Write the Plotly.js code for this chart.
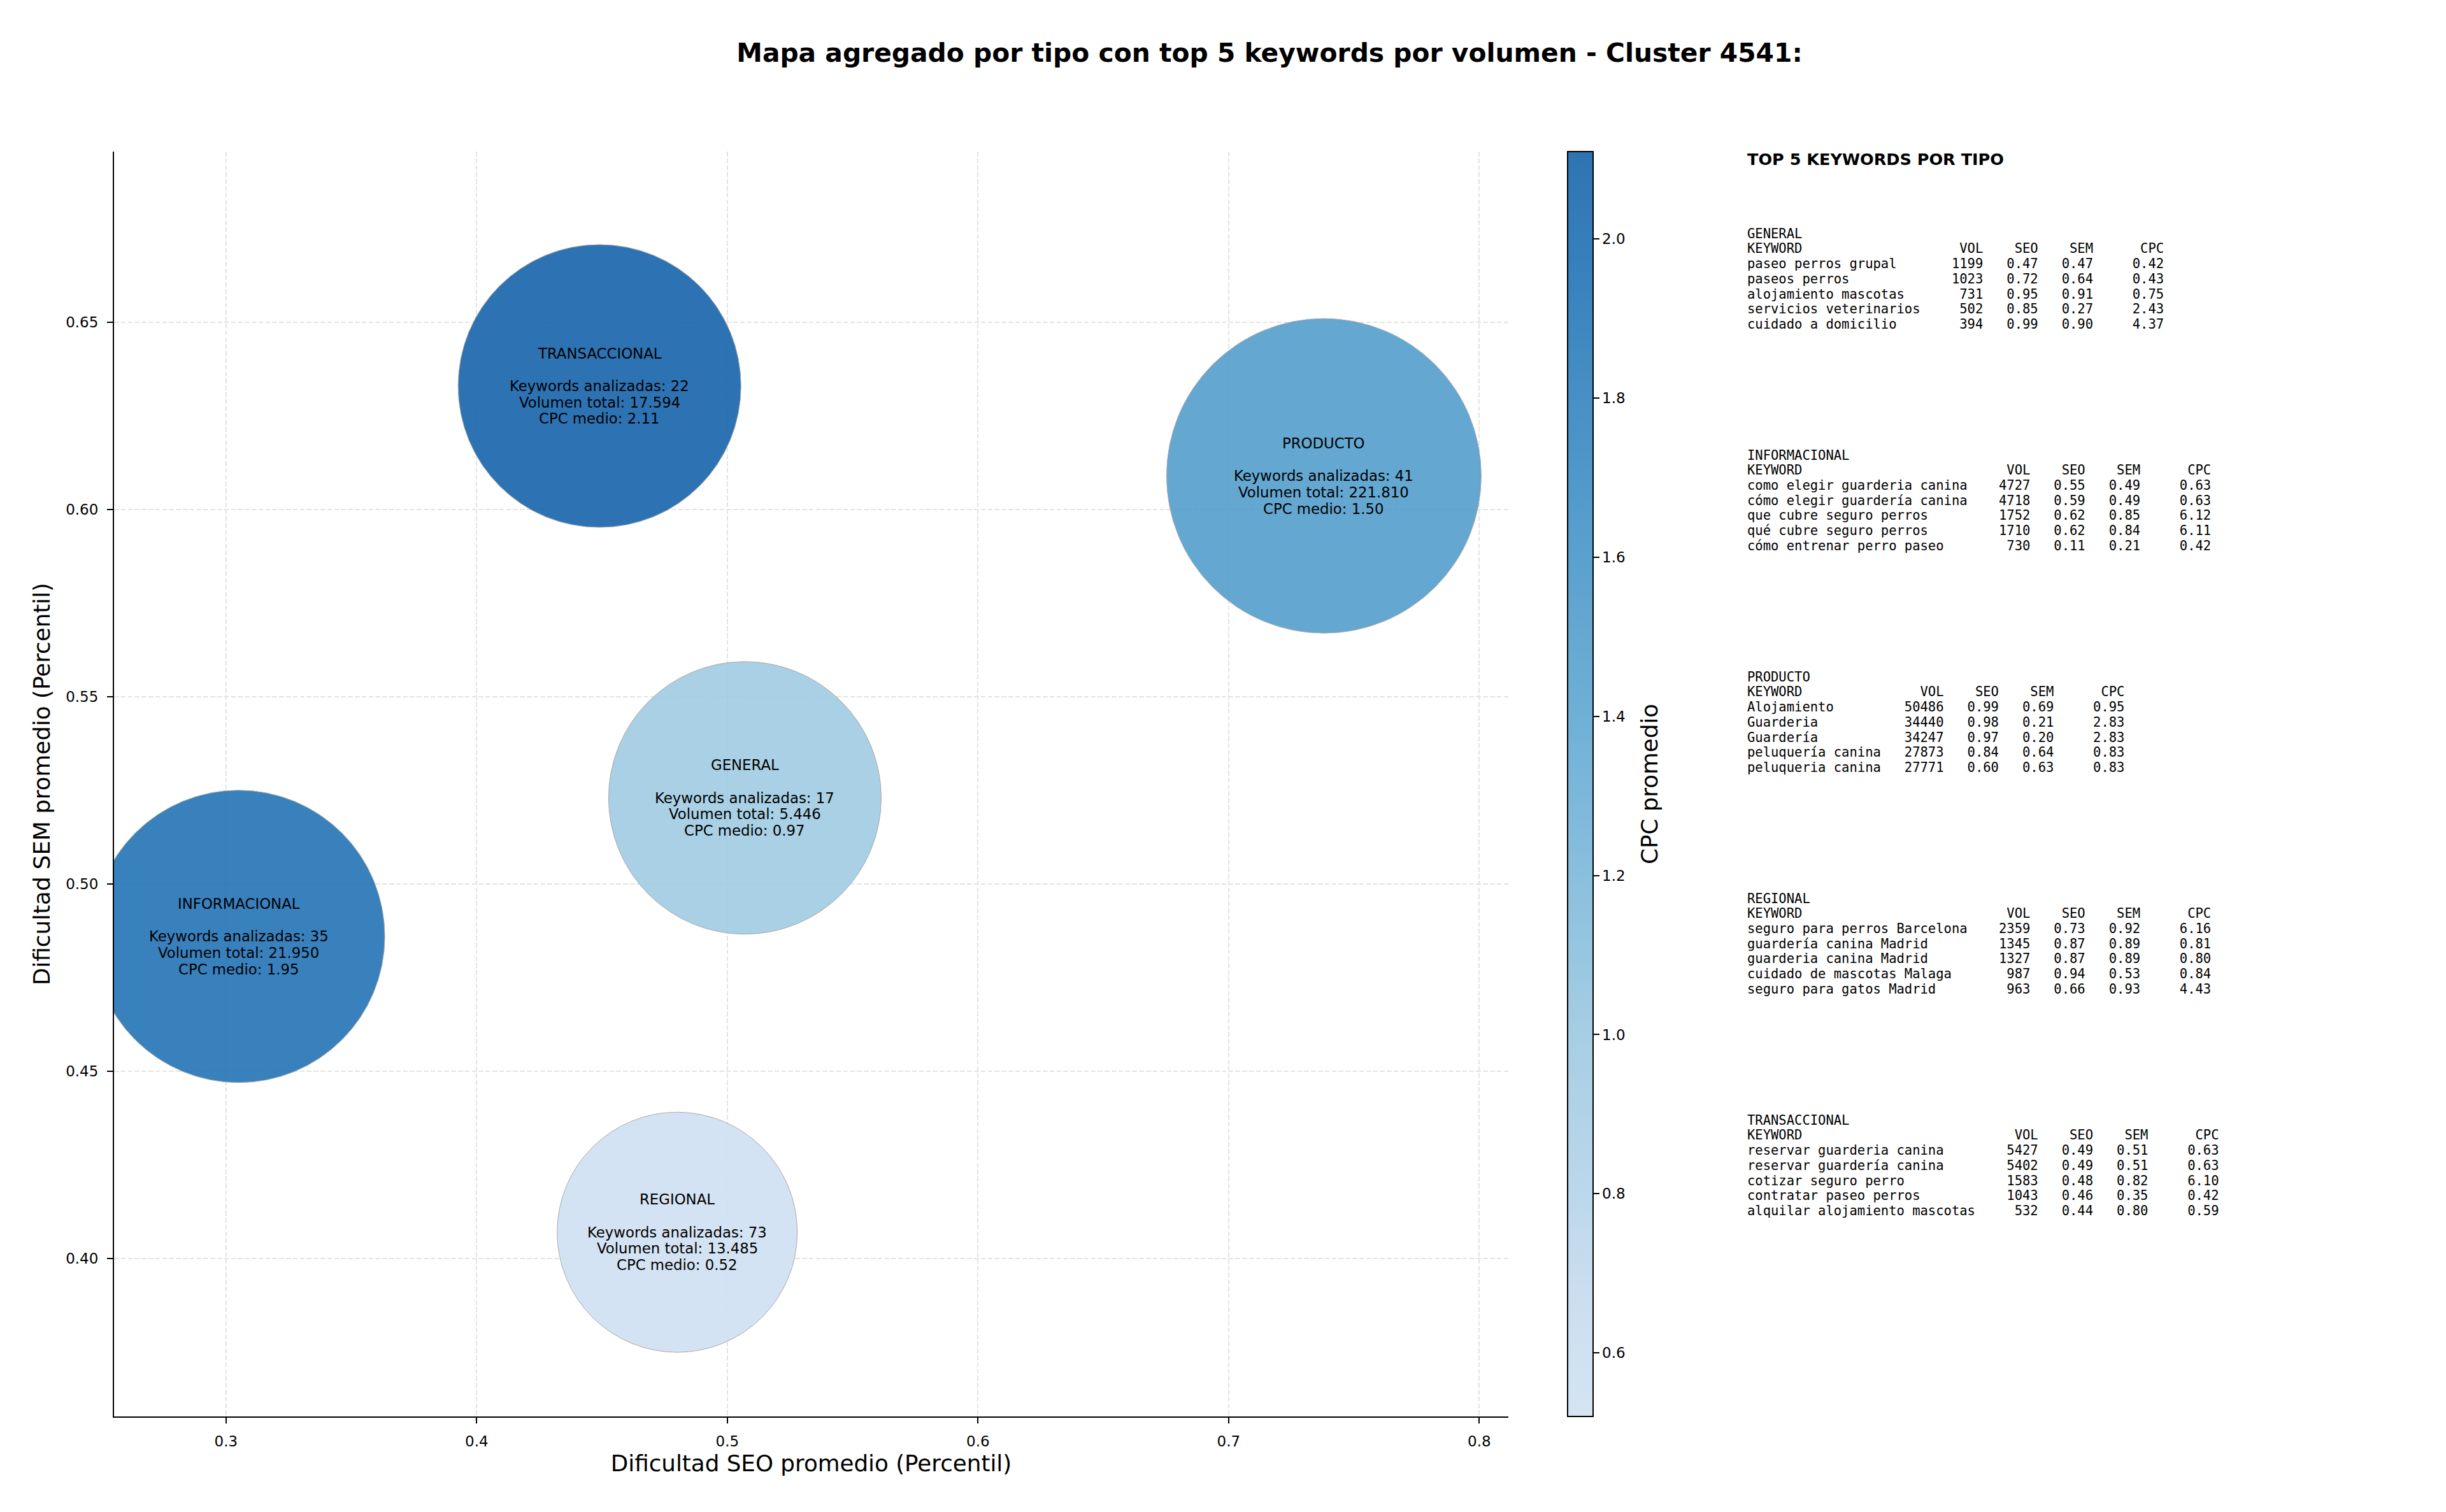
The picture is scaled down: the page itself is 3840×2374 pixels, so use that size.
<!DOCTYPE html>
<html>
<head>
<meta charset="utf-8">
<script src="https://cdn.plot.ly/plotly-3.0.1.min.js"></script>
<style>
  html, body { margin: 0; padding: 0; background: #ffffff; }
  #chart { width: 3840px; height: 2374px; }
</style>
</head>
<body>
<div id="chart"></div>
<script>
// ---------------- DATA ----------------
const tipos        = ['GENERAL', 'INFORMACIONAL', 'PRODUCTO', 'REGIONAL', 'TRANSACCIONAL'];
const seoPromedio  = [0.507, 0.305, 0.738, 0.480, 0.449];
const semPromedio  = [0.523, 0.486, 0.609, 0.407, 0.633];
const cpcMedio     = [0.97, 1.95, 1.50, 0.52, 2.11];
const nKeywords    = [17, 35, 41, 73, 22];
const volumenTotal = [5446, 21950, 221810, 13485, 17594];

// top 5 keywords per type: [keyword, VOL, SEO, SEM, CPC]
const topGeneral = [
  ['paseo perros grupal', 1199, 0.47, 0.47, 0.42],
  ['paseos perros', 1023, 0.72, 0.64, 0.43],
  ['alojamiento mascotas', 731, 0.95, 0.91, 0.75],
  ['servicios veterinarios', 502, 0.85, 0.27, 2.43],
  ['cuidado a domicilio', 394, 0.99, 0.90, 4.37]
];
const topInformacional = [
  ['como elegir guarderia canina', 4727, 0.55, 0.49, 0.63],
  ['cómo elegir guardería canina', 4718, 0.59, 0.49, 0.63],
  ['que cubre seguro perros', 1752, 0.62, 0.85, 6.12],
  ['qué cubre seguro perros', 1710, 0.62, 0.84, 6.11],
  ['cómo entrenar perro paseo', 730, 0.11, 0.21, 0.42]
];
const topProducto = [
  ['Alojamiento', 50486, 0.99, 0.69, 0.95],
  ['Guarderia', 34440, 0.98, 0.21, 2.83],
  ['Guardería', 34247, 0.97, 0.20, 2.83],
  ['peluquería canina', 27873, 0.84, 0.64, 0.83],
  ['peluqueria canina', 27771, 0.60, 0.63, 0.83]
];
const topRegional = [
  ['seguro para perros Barcelona', 2359, 0.73, 0.92, 6.16],
  ['guardería canina Madrid', 1345, 0.87, 0.89, 0.81],
  ['guarderia canina Madrid', 1327, 0.87, 0.89, 0.80],
  ['cuidado de mascotas Malaga', 987, 0.94, 0.53, 0.84],
  ['seguro para gatos Madrid', 963, 0.66, 0.93, 4.43]
];
const topTransaccional = [
  ['reservar guarderia canina', 5427, 0.49, 0.51, 0.63],
  ['reservar guardería canina', 5402, 0.49, 0.51, 0.63],
  ['cotizar seguro perro', 1583, 0.48, 0.82, 6.10],
  ['contratar paseo perros', 1043, 0.46, 0.35, 0.42],
  ['alquilar alojamiento mascotas', 532, 0.44, 0.80, 0.59]
];
const topTables = [topGeneral, topInformacional, topProducto, topRegional, topTransaccional];

// ---------------- STYLE ----------------
const W = 3840, H = 2374;
const M = { l: 179, r: 1472, t: 238, b: 150 };
const plotW = W - M.l - M.r, plotH = H - M.t - M.b;
const bubbleDiameterPx = [428, 459, 494, 377, 444];
const FONT = 'DejaVu Sans';
const MONO = 'DejaVu Sans Mono';

// matplotlib "Blues", truncated 0.2 - 0.8
const bluesAnchors = ['#f7fbff','#deebf7','#c6dbef','#9ecae1','#6baed6','#4292c6','#2171b5','#08519c','#08306b'];
function hex2rgb(h){ return [1,3,5].map(i => parseInt(h.substr(i,2),16)); }
function blues(t){
  const n = bluesAnchors.length - 1;
  const p = Math.min(Math.max(t,0),1) * n;
  const i = Math.min(Math.floor(p), n - 1), f = p - i;
  const a = hex2rgb(bluesAnchors[i]), b = hex2rgb(bluesAnchors[i+1]);
  return a.map((v,k) => v + (b[k]-v)*f);
}
function makeScale(alpha){
  const out = [];
  const N = 24;
  for (let s = 0; s <= N; s++){
    const t = s / N;
    const c = blues(0.2 + 0.6*t).map(v => Math.round(v*alpha + 255*(1-alpha)));
    out.push([t, `rgb(${c[0]},${c[1]},${c[2]})`]);
  }
  return out;
}
const scaleRaw = makeScale(1.0);
const scaleBlended = makeScale(0.9);
const cmin = Math.min(...cpcMedio), cmax = Math.max(...cpcMedio);

function miles(n){ return String(n).replace(/\B(?=(\d{3})+(?!\d))/g, '.'); }
function pxX(px){ return (px - M.l) / plotW; }
function pxY(py){ return (M.t + plotH - py) / plotH; }
const nb = s => s.replace(/ /g, '\u00A0');

// ---------------- TRACES ----------------
const bubbles = {
  type: 'scatter', mode: 'markers',
  x: seoPromedio, y: semPromedio,
  text: tipos, hoverinfo: 'text',
  marker: {
    size: bubbleDiameterPx, sizemode: 'diameter',
    color: cpcMedio, colorscale: scaleRaw, cmin: cmin, cmax: cmax,
    opacity: 0.9,
    line: { color: 'rgb(160,160,160)', width: 1 },
    showscale: false
  },
  showlegend: false
};
const scaleHolder = {
  type: 'scatter', mode: 'markers',
  x: seoPromedio, y: semPromedio, hoverinfo: 'skip',
  marker: {
    size: 0.0001, opacity: 0,
    color: cpcMedio, colorscale: scaleBlended, cmin: cmin, cmax: cmax,
    showscale: true,
    colorbar: {
      x: pxX(2461), xanchor: 'left', xref: 'paper', xpad: 0,
      y: 0.5, yanchor: 'middle', len: 1, lenmode: 'fraction', ypad: 0,
      thickness: 40, outlinewidth: 2, outlinecolor: '#000',
      tickmode: 'array', tickvals: [0.6, 0.8, 1.0, 1.2, 1.4, 1.6, 1.8, 2.0],
      tickformat: '.1f', ticks: 'outside', ticklen: 9, tickwidth: 2, tickcolor: '#000',
      ticklabelstandoff: 4,
      tickfont: { family: FONT, size: 23, color: '#000' }
    }
  },
  showlegend: false
};

// ---------------- ANNOTATIONS ----------------
const annotations = [];
const LINE_B = 25.7;
tipos.forEach((t, i) => {
  const lines = [t, '', `Keywords analizadas: ${nKeywords[i]}`,
                 `Volumen total: ${miles(volumenTotal[i])}`,
                 `CPC medio: ${cpcMedio[i].toFixed(2)}`];
  lines.forEach((ln, k) => {
    if (!ln) return;
    annotations.push({
      xref: 'x', yref: 'y', x: seoPromedio[i], y: semPromedio[i],
      text: ln, showarrow: false, xanchor: 'center', yanchor: 'middle',
      yshift: -(k - 2) * LINE_B,
      font: { family: FONT, size: 22.8, color: '#000' }
    });
  });
});

// colorbar title
annotations.push({
  xref: 'paper', yref: 'paper', x: pxX(2589), y: 0.5,
  text: 'CPC promedio', textangle: -90, showarrow: false,
  xanchor: 'center', yanchor: 'middle',
  font: { family: FONT, size: 35.7, color: '#000' }
});

// side panel
const PANEL_X = 2741;
annotations.push({
  xref: 'paper', yref: 'paper', x: pxX(PANEL_X), y: pxY(250),
  text: 'TOP 5 KEYWORDS POR TIPO', showarrow: false,
  xanchor: 'left', yanchor: 'middle',
  font: { family: FONT, size: 25.5, color: '#000', weight: 'bold' }
});
const LINE_M = 23.7;
topTables.forEach((rows, bi) => {
  const maxLen = Math.max(...rows.map(r => r[0].length));
  const w = maxLen + 2;
  const lines = [tipos[bi],
    'KEYWORD'.padEnd(w) + 'VOL'.padStart(6) + 'SEO'.padStart(7) + 'SEM'.padStart(7) + 'CPC'.padStart(9)];
  rows.forEach(r => {
    lines.push(r[0].padEnd(w) + String(r[1]).padStart(6) + r[2].toFixed(2).padStart(7) +
               r[3].toFixed(2).padStart(7) + r[4].toFixed(2).padStart(9));
  });
  const y0 = 366.7 + bi * 348;
  lines.forEach((ln, k) => {
    annotations.push({
      xref: 'paper', yref: 'paper', x: pxX(PANEL_X), y: pxY(y0 + k * LINE_M),
      text: nb(ln), showarrow: false, xanchor: 'left', yanchor: 'middle',
      font: { family: MONO, size: 20.5, color: '#000' }
    });
  });
});

// ---------------- LAYOUT ----------------
const axisCommon = {
  showline: true, linecolor: '#000', linewidth: 2, mirror: false,
  ticks: 'outside', ticklen: 9, tickwidth: 2, tickcolor: '#000',
  showgrid: true, gridcolor: '#e4e4e4', gridwidth: 2, griddash: '7.5px,3.3px',
  zeroline: false,
  tickfont: { family: FONT, size: 23, color: '#000' }
};
const layout = {
  width: W, height: H,
  paper_bgcolor: '#fff', plot_bgcolor: '#fff',
  margin: M,
  font: { family: FONT, color: '#000' },
  title: {
    text: 'Mapa agregado por tipo con top 5 keywords por volumen - Cluster 4541:',
    x: 1993 / W, xref: 'container', xanchor: 'center',
    y: 1 - 83 / H, yref: 'container', yanchor: 'middle',
    font: { family: FONT, size: 40.8, color: '#000', weight: 'bold' }
  },
  xaxis: Object.assign({}, axisCommon, {
    range: [0.2553, 0.8116], tickmode: 'linear', tick0: 0.3, dtick: 0.1, tickformat: '.1f',
    ticklabelstandoff: 8,
    title: { text: 'Dificultad SEO promedio (Percentil)', standoff: 10,
             font: { family: FONT, size: 35.7, color: '#000' } }
  }),
  yaxis: Object.assign({}, axisCommon, {
    range: [0.3578, 0.6956], tickmode: 'linear', tick0: 0.4, dtick: 0.05, tickformat: '.2f',
    ticklabelstandoff: 9,
    title: { text: 'Dificultad SEM promedio (Percentil)', standoff: 14,
             font: { family: FONT, size: 35.7, color: '#000' } }
  }),
  annotations: annotations,
  showlegend: false,
  hovermode: false
};

Plotly.newPlot('chart', [bubbles, scaleHolder], layout, { staticPlot: true, displayModeBar: false });
</script>
</body>
</html>
